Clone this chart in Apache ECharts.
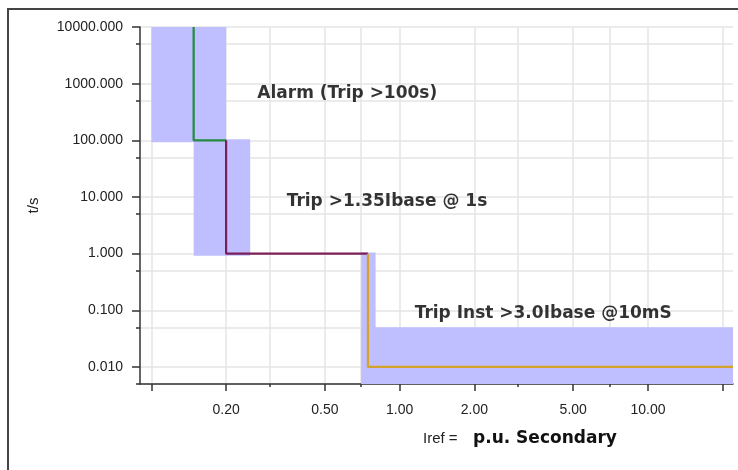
<!DOCTYPE html>
<html>
<head>
<meta charset="utf-8">
<style>
  html, body { margin: 0; padding: 0; background: #fff; }
  #chart { width: 738px; height: 470px; }
</style>
</head>
<body>
<div id="chart"></div>
<script src="https://cdn.jsdelivr.net/npm/echarts@6/dist/echarts.min.js"></script>
<script>
// axis ranges
const xMin = 0.09, xMax = 22
const yMin = 0.005, yMax = 10000

// tick positions
const xMajorTicks = [0.1, 0.2, 0.5, 1, 2, 5, 10, 20]
const xMinorTicks = [0.3, 0.7, 3, 7]
const xLabels = [0.2, 0.5, 1, 2, 5, 10]
const yMajorTicks = [0.01, 0.1, 1, 10, 100, 1000, 10000]
const yMinorTicks = [0.005, 0.05, 0.5, 5, 50, 500, 5000]

// characteristic steps
const alarmX = [0.148, 0.148, 0.2]
const alarmY = [10000, 100, 100]
const tripX = [0.2, 0.2, 0.745]
const tripY = [100, 1, 1]
const instX = [0.745, 0.745, 22]
const instY = [1, 0.01, 0.01]

// tolerance bands: x1, y1, x2, y2
const bands = [
  [0.1, 92, 0.2, 10000],
  [0.148, 0.92, 0.25, 104],
  [0.7, 0.005, 0.8, 1.05],
  [0.7, 0.005, 22, 0.05]
]

// annotations
const noteText = ['Alarm (Trip >100s)', 'Trip >1.35Ibase @ 1s', 'Trip Inst >3.0Ibase @10mS']
const noteX = [0.266, 0.349, 1.144]
const noteY = [671, 8.2, 0.0885]

const zip = (xs, ys) => xs.map((x, i) => [x, ys[i]])

const tickFont = { fontFamily: 'Liberation Sans', fontSize: 14, color: '#222' }
const gridLine = { show: true, lineStyle: { color: '#e4e4e4', width: 1.5 } }

function xAxisOf(ticks, len, labels) {
  return {
    type: 'log', logBase: 10, min: xMin, max: xMax, position: 'bottom',
    axisLine: { show: !!labels, onZero: false, lineStyle: { color: '#333', width: 1.5 } },
    axisTick: { show: true, customValues: ticks, length: len, lineStyle: { color: '#333', width: 1.5 } },
    axisLabel: labels
      ? Object.assign({ customValues: labels, margin: 19, formatter: v => Number(v).toFixed(2) }, tickFont)
      : { show: false },
    splitLine: gridLine,
    minorTick: { show: false }
  }
}

function yAxisOf(ticks, len, labels) {
  return {
    type: 'log', logBase: 10, min: yMin, max: yMax, position: 'left',
    axisLine: { show: !!labels, onZero: false, lineStyle: { color: '#333', width: 1.5 } },
    axisTick: { show: true, customValues: ticks, length: len, lineStyle: { color: '#333', width: 1.5 } },
    axisLabel: labels
      ? Object.assign({ customValues: labels, margin: 17, formatter: v => Number(v).toFixed(3) }, tickFont)
      : { show: false },
    splitLine: gridLine,
    name: labels ? 't/s' : '',
    nameLocation: 'middle',
    nameGap: 99,
    nameTextStyle: { fontFamily: 'Liberation Sans', fontSize: 15, color: '#222' }
  }
}

const chart = echarts.init(document.getElementById('chart'))

chart.setOption({
  animation: false,
  backgroundColor: '#fff',
  grid: { left: 140, top: 27, right: 5, bottom: 86 },
  xAxis: [xAxisOf(xMajorTicks, 7, xLabels), xAxisOf(xMinorTicks, 3, null)],
  yAxis: [yAxisOf(yMajorTicks, 8, yMajorTicks), yAxisOf(yMinorTicks, 4, null)],
  graphic: [
    {
      type: 'rect', silent: true,
      shape: { x: 8, y: 9, width: 900, height: 700 },
      style: { fill: 'none', stroke: '#444', lineWidth: 2 }
    },
    {
      type: 'text', left: 423, top: 431, silent: true,
      style: { text: 'Iref =', font: '15px "Liberation Sans"', fill: '#222' }
    },
    {
      type: 'text', left: 473, top: 430, silent: true,
      style: { text: 'p.u. Secondary', font: 'bold 17px "DejaVu Sans"', fill: '#111' }
    }
  ],
  series: [
    {
      type: 'line', data: [], z: 1, silent: true,
      markArea: {
        silent: true,
        itemStyle: { color: '#bfbfff', opacity: 1 },
        data: bands.map(b => [{ coord: [b[0], b[1]] }, { coord: [b[2], b[3]] }])
      }
    },
    {
      type: 'line', data: zip(alarmX, alarmY), symbol: 'none', z: 3,
      lineStyle: { color: '#238a3e', width: 2.2 }
    },
    {
      type: 'line', data: zip(tripX, tripY), symbol: 'none', z: 3,
      lineStyle: { color: '#7c1f58', width: 2.2 }
    },
    {
      type: 'line', data: zip(instX, instY), symbol: 'none', z: 3,
      lineStyle: { color: '#d4a22b', width: 2.2 }
    },
    {
      type: 'scatter', z: 4, silent: true,
      symbolSize: 1, itemStyle: { color: 'rgba(0,0,0,0)' },
      data: noteText.map((t, i) => ({ name: t, value: [noteX[i], noteY[i]] })),
      label: {
        show: true, position: 'right', distance: 0,
        formatter: p => p.name,
        fontFamily: 'DejaVu Sans', fontSize: 17, fontWeight: 'bold', color: '#000'
      }
    }
  ]
})
</script>
</body>
</html>
